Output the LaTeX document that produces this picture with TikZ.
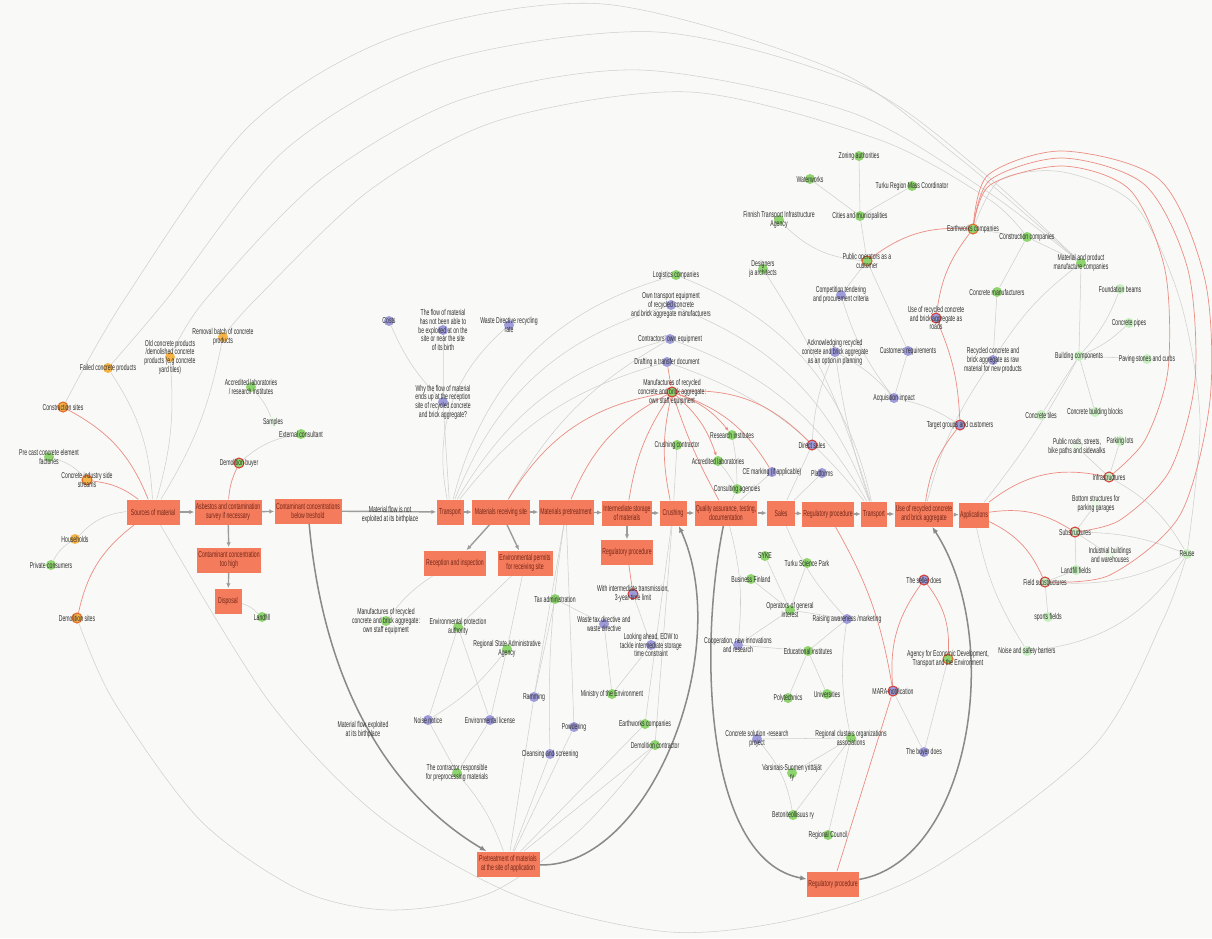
\documentclass[tikz,border=0pt]{standalone}
\usepackage{fontspec}
\setmainfont{Liberation Sans}[FakeStretch=0.6]
\usetikzlibrary{arrows.meta}
\definecolor{paper}{HTML}{F9F9F7}
\definecolor{boxc}{HTML}{F47B5B}
\definecolor{boxt}{HTML}{74261A}
\definecolor{orng}{HTML}{F6B447}
\definecolor{grn}{HTML}{8FD56F}
\definecolor{lgrn}{HTML}{C8EFC0}
\definecolor{prp}{HTML}{9E9BDB}
\definecolor{ringr}{HTML}{D43F3A}
\definecolor{ringo}{HTML}{E2692C}
\definecolor{lblc}{HTML}{2F2F2F}
\definecolor{edgec}{HTML}{CFCFCF}
\definecolor{redc}{HTML}{EC8C82}
\definecolor{flowc}{HTML}{9C9C9C}
\definecolor{thkc}{HTML}{8A8A8A}
\pgfdeclarelayer{back}
\pgfdeclarelayer{edges}
\pgfsetlayers{back,edges,main}

\begin{document}
\begin{tikzpicture}[x=0.03cm,y=-0.03cm,font=\fontsize{7.3}{7.5}\selectfont,
 box/.style={fill=boxc,text=boxt,align=center,minimum height=.75cm,inner xsep=1pt,inner ysep=1pt},
 dot/.style={circle,minimum size=.3cm,inner sep=0pt},
 od/.style={dot,fill=orng},
 odr/.style={dot,fill=orng,draw=ringo,line width=.9pt},
 gd/.style={dot,fill=grn},
 gdr/.style={dot,fill=grn,draw=ringr,line width=.9pt},
 gdo/.style={dot,fill=grn,draw=ringo,line width=.9pt},
 pd/.style={dot,fill=prp},
 pdr/.style={dot,fill=prp,draw=ringr,line width=.9pt},
 ld/.style={dot,fill=lgrn},
 ldr/.style={dot,fill=lgrn,draw=ringr,line width=.9pt},
 xd/.style={dot,fill=lgrn!35},
 lbl/.style={text=lblc,align=center,inner sep=0pt},
 gedge/.style={draw=edgec,line width=.45pt},
 redge/.style={draw=redc,line width=.6pt},
 flw/.style={draw=flowc,line width=1.2pt,-{Latex[length=1.5mm,width=1.3mm]}},
 thk/.style={draw=thkc,line width=1.3pt,-{Latex[length=2mm,width=1.6mm]}}]
\path[use as bounding box] (0,0) rectangle (1212,938);
\begin{pgfonlayer}{back}
 \fill[paper] (0,0) rectangle (1212,938);
\end{pgfonlayer}
\foreach \n/\x/\y/\w/\t in {
 src/153/512/53/{Sources of material},
 asb/228/512/67/{Asbestos and contamination\\survey if necessary},
 cbt/308/511/67/{Contaminant concentrations\\below treshold},
 tr1/450/512/27/{Transport},
 mrs/501/512/58/{Materials receiving site},
 mpt/566/512/55/{Materials pretreatment},
 ism/627/513/49/{Intermediate storage\\of materials},
 cru/673/513/27/{Crushing},
 qat/726/513/62/{Quality assurance, testing,\\documentation},
 sal/781/513/28/{Sales},
 reg/828/514/50/{Regulatory procedure},
 tr2/874/514/26/{Transport},
 use/924/514/58/{Use of recycled concrete\\and brick aggregate},
 app/974/515/29/{Applications},
 cth/229/560/64/{Contaminant concentration\\too high},
 dis/228/601/27/{Disposal},
 rec/455/563/62/{Reception and inspection},
 env/525/563/55/{Environmental permits\\for receiving site},
 reg2/627/552/52/{Regulatory procedure},
 pas/508/864/63/{Pretreatment of materials\\at the site of application},
 reg3/833/884/52/{Regulatory procedure}}{
 \node[box,minimum width=\w*0.03cm] (\n) at (\x,\y) {\t};
}
\foreach \n/\x/\y/\s/\t in {
 csite/63/407/odr/{Construction sites},
 fcp/108/368/od/{Failed concrete products},
 ocp/170/357/od/{Old concrete products\\/demolished concrete\\products (e.g concrete\\yard tiles)},
 rbc/223/337/od/{Removal batch of concrete\\products},
 pce/49/457/gd/{Pre cast concrete element\\factories},
 cis/87/480/odr/{Concrete industry side\\streams},
 hh/75/539/od/{Households},
 pcon/51/565/gd/{Private consumers},
 dsite/77/618/odr/{Demolition sites},
 alab/251/387/gd/{Accredited laboratories\\/ research institutes},
 smp/273/422/xd/{Samples},
 ext/301/434/gd/{External consultant},
 dbuy/239/463/gdr/{Demolition buyer},
 lf/262/617/gd/{Landfill},
 costs/389/321/pd/{Costs},
 flow/443/330/pd/{The flow of material\\has not been able to\\be exploited at on the\\site or near the site\\of its birth},
 wdr/509/325/pd/{Waste Directive recycling\\rate},
 why/443/402/pd/{Why the flow of material\\ends up at the reception\\site of recycled concrete\\and brick aggregate?},
 log/676/275/gd/{Logistics companies},
 otr/671/305/pd/{Own transport equipment\\of recycled concrete\\and brick aggregate manufacturers},
 con/670/339/pd/{Contractors' own equipment},
 draft/667/362/pd/{Drafting a transfer document},
 mfr/672/392/gdr/{Manufactures of recycled\\concrete and brick aggregate:\\own staff equipment},
 crc/677/445/gd/{Crushing contractor},
 resi/732/435/gd/{Research institutes},
 acl/718/461/gd/{Accredited laboratories},
 cag/737/489/gd/{Consulting agencies},
 ce/772/472/pd/{CE marking (if applicable)},
 dsal/812/445/pdr/{Direct sales},
 plat/822/473/pd/{Platforms},
 des/763/269/gd/{Designers\\ja architects},
 cpt/841/295/pd/{Competition tendering\\and procurement criteria},
 ack/835/352/pd/{Acknowledging recycled\\concrete and brick aggregate\\as an option in planning},
 acq/894/398/pd/{Acquisition impact},
 zon/859/156/gd/{Zoning authorities},
 wat/810/179/gd/{Waterworks},
 trm/912/186/gd/{Turku Region Mass Coordinator},
 ftia/779/220/gd/{Finnish Transport Infrastructure\\Agency},
 cit/860/216/gd/{Cities and municipalities},
 pop/867/261/gdo/{Public operators as a\\customer},
 ewc/973/229/gdo/{Earthworks companies},
 ccom/1027/237/gd/{Construction companies},
 mpc/1081/263/gd/{Material and product\\manufacture companies},
 cmf/997/292/gd/{Concrete manufacturers},
 uar/936/318/pdr/{Use of recycled concrete\\and brick aggregate as\\roads},
 crq/908/351/pd/{Customers requirements},
 rcr/993/360/pd/{Recycled concrete and\\brick aggregate as raw\\material for new products},
 bcp/1079/356/ld/{Building components},
 fnd/1120/289/ld/{Foundation beams},
 pipe/1129/323/ld/{Concrete pipes},
 pav/1147/359/ld/{Paving stones and curbs},
 cbb/1095/412/ld/{Concrete building blocks},
 tile/1041/415/ld/{Concrete tiles},
 tgc/960/425/pdr/{Target groups and customers},
 prs/1077/447/xd/{Public roads, streets,\\bike paths and sidewalks},
 park/1120/441/ld/{Parking lots},
 inf/1109/477/ldr/{Infrastructures},
 bsg/1096/504/xd/{Bottom structures for\\parking garages},
 sub/1075/532/ldr/{Substructures},
 ibw/1110/555/xd/{Industrial buildings\\and warehouses},
 lff/1076/570/ld/{Landfill fields},
 fsub/1045/582/ldr/{Field substructures},
 reuse/1187/554/ld/{Reuse},
 spf/1048/617/ld/{sports fields},
 noise/1027/651/ld/{Noise and safety barriers},
 sell/924/580/pdr/{The seller does},
 agcy/948/659/gdo/{Agency for Economic Development,\\Transport and the Environment},
 mara/893/691/pdr/{MARA-notification},
 buy/924/752/pd/{The buyer does},
 syke/765/556/gd/{SYKE},
 tsp/807/563/gd/{Turku Science Park},
 bfi/751/579/gd/{Business Finland},
 opg/790/610/gd/{Operators of general\\interest},
 raw/847/619/pd/{Raising awareness /marketing},
 coop/738/645/pd/{Cooperation, new innovations\\and research},
 edu/808/651/gd/{Educational institutes},
 poly/788/698/gd/{Polytechnics},
 uni/827/694/gd/{Universities},
 csr/757/739/pd/{Concrete solution -research\\project},
 rcl/851/738/gd/{Regional clusters organizations\\associations},
 vsy/792/773/gd/{Varsinais-Suomen yrittäjät\\ry},
 bet/793/815/gd/{Betoniteollisuus ry},
 rcn/828/835/gd/{Regional Council},
 wit/633/594/pdr/{With intermediate transmission,\\3-year time limit},
 tax/555/599/gd/{Tax administration},
 wtd/604/624/pd/{Waste tax directive and\\waste directive},
 lah/651/645/pd/{Looking ahead, EOW to\\tackle intermediate storage\\time constraint},
 mfr2/386/621/gd/{Manufactures of recycled\\concrete and brick aggregate:\\own staff equipment},
 epa/458/627/gd/{Environmental protection\\authority},
 rsa/507/649/gd/{Regional State Administrative\\Agency},
 ram/534/697/pd/{Ramming},
 moe/612/694/gd/{Ministry of the Environment},
 nno/428/720/pd/{Noise notice},
 lic/490/720/pd/{Environmental license},
 pow/574/727/pd/{Powdering},
 ewc2/645/724/gd/{Earthworks companies},
 dcon/655/745/gd/{Demolition contractor},
 cls/550/754/pd/{Cleansing and screening},
 crs/457/773/gd/{The contractor responsible\\for preprocessing materials}}{
 \node[\s] (\n) at (\x,\y) {};
 \node[lbl] (\n-l) at (\n) {\t};
}
\node[lbl] (nfl) at (390,515) {Material flow is not\\exploited at its birthplace};
\node[lbl] (mfe) at (363,730) {Material flow exploited\\at its birthplace};
\begin{pgfonlayer}{edges}
\foreach \a/\b/\d in {fcp/src/15,ocp/src/10,rbc/src/10,hh/src/20,pcon/hh/15,pce/cis/15,
 alab/smp/10,dbuy/ext/15,dis/lf/15,costs/why/-10,flow/why/0,why/tr1/0,wdr/tr1/-30,
 tr1/log/30,tr1/otr/26,tr1/con/22,tr1/draft/18,mrs/con/15,
 log/tr2/28,otr/tr2/24,con/tr2/20,draft/tr2/16,des/tr2/8,ack/tr2/-5,
 dsal/sal/0,plat/sal/0,dsal/ack/10,ce/qat/0,crc/cru/0,resi/cag/5,acl/cag/5,cag/qat/0,
 pop/cpt/0,pop/crq/0,cpt/acq/-10,ack/acq/10,crq/acq/0,acq/tgc/10,ftia/pop/-20,
 wat/cit/0,zon/cit/0,trm/cit/0,cit/pop/0,
 ewc/ccom/0,ccom/cmf/0,ccom/mpc/0,cmf/rcr/0,mpc/rcr/-10,mpc/bcp/0,
 bcp/fnd/-10,bcp/pipe/-10,bcp/pav/0,bcp/cbb/0,bcp/tile/0,bcp/app/5,rcr/use/-10,
 inf/prs/0,inf/park/0,sub/bsg/0,sub/ibw/0,sub/lff/0,fsub/spf/0,fsub/lff/0,
 inf/reuse/15,sub/reuse/10,fsub/reuse/-15,noise/reuse/-25,app/noise/-10,
 rec/mfr2/-10,env/epa/0,env/rsa/0,epa/nno/0,epa/lic/0,rsa/nno/10,rsa/lic/0,nno/crs/0,lic/crs/0,
 mpt/ram/0,mpt/pow/0,mpt/cls/-5,ram/pas/0,pow/pas/0,cls/pas/0,crs/pas/10,
 tax/wtd/0,tax/ram/0,wtd/moe/0,lah/moe/0,wit/lah/0,
 cru/ewc2/0,cru/dcon/0,ewc2/pas/0,dcon/pas/0,
 syke/opg/0,bfi/opg/0,tsp/opg/0,opg/raw/0,opg/coop/0,edu/poly/0,edu/uni/0,edu/raw/0,edu/coop/0,
 rcl/csr/0,rcl/vsy/0,rcl/bet/0,rcl/rcn/0,rcl/raw/10,csr/bet/15,qat/coop/10,sal/raw/-10,
 mara/buy/0,agcy/buy/0}
 \draw[gedge] (\a) to[bend left=\d] (\b);
\draw[gedge] plot[smooth] coordinates {(csite) (124,300) (250,125) (400,35) (603,4) (835,70) (958,157) (mpc)};
\draw[gedge] plot[smooth] coordinates {(fcp) (166,300) (285,150) (440,62) (657,32) (860,85) (980,170) (mpc)};
\draw[gedge] plot[smooth] coordinates {(ocp) (205,300) (320,180) (460,100) (640,70) (850,112) (985,190) (mpc)};
\draw[gedge] plot[smooth] coordinates {(rbc) (255,300) (370,190) (500,120) (690,92) (880,140) (990,200) (ccom)};
\draw[gedge] plot[smooth] coordinates {(src) (268,700) (380,817) (520,897) (670,932) (800,918) (930,870) (1093,747) (1163,620) (reuse)};
\draw[gedge] plot[smooth] coordinates {(dsite) (113,700) (200,820) (300,890) (390,910) (490,893) (580,830) (dcon)};
\draw[gedge] plot[smooth] coordinates {(ewc) (1000,180) (1063,172) (1135,205) (1180,300) (1200,420) (reuse)};
\foreach \a/\b/\d in {csite/src/20,cis/src/15,dsite/src/20,dbuy/asb/-10,mrs/mfr/25,mpt/mfr/20,
 ism/mfr/12,cru/mfr/12,qat/mfr/5,mfr/ce/20,mfr/dsal/25,reg2/wit/0,reg/mara/10,mara/reg3/0,
 mara/sell/20,sell/agcy/20,use/tgc/15,tgc/uar/-10,uar/ewc/15,pop/ewc/20,app/inf/25,app/sub/20,app/fsub/20}
 \draw[redge] (\a) to[bend left=\d] (\b);
\foreach \a/\b/\d in {mfr/resi/15,mfr/acl/15,draft/mfr/0}
 \draw[redge,-{Latex[length=1.2mm,width=1mm]}] (\a) to[bend left=\d] (\b);
\draw[redge] plot[smooth] coordinates {(ewc) (990,185) (1063,166) (1130,190) (1165,270) (1168,370) (1145,440) (inf)};
\draw[redge] plot[smooth] coordinates {(ewc) (990,180) (1063,158) (1145,185) (1188,270) (1195,380) (1170,470) (1120,520) (sub)};
\draw[redge] plot[smooth] coordinates {(ewc) (988,175) (1063,151) (1160,180) (1205,280) (1210,400) (1180,515) (1110,575) (fsub)};
\foreach \a/\b in {src/asb,asb/cbt,cbt/tr1,tr1/mrs,mrs/mpt,mpt/ism,ism/cru,cru/qat,qat/sal,
 sal/reg,reg/tr2,tr2/use,use/app,asb/cth,cth/dis,mrs/rec,mrs/env,ism/reg2}
 \draw[flw] (\a) -- (\b);
\draw[thk] (cbt) .. controls (325,700) and (400,800) .. (pas);
\draw[thk] (pas) .. controls (650,868) and (735,650) .. (cru);
\draw[thk] (qat) .. controls (698,650) and (705,860) .. (reg3);
\draw[thk] (reg3) .. controls (970,860) and (1005,640) .. (use);
\end{pgfonlayer}
\end{tikzpicture}
\end{document}
